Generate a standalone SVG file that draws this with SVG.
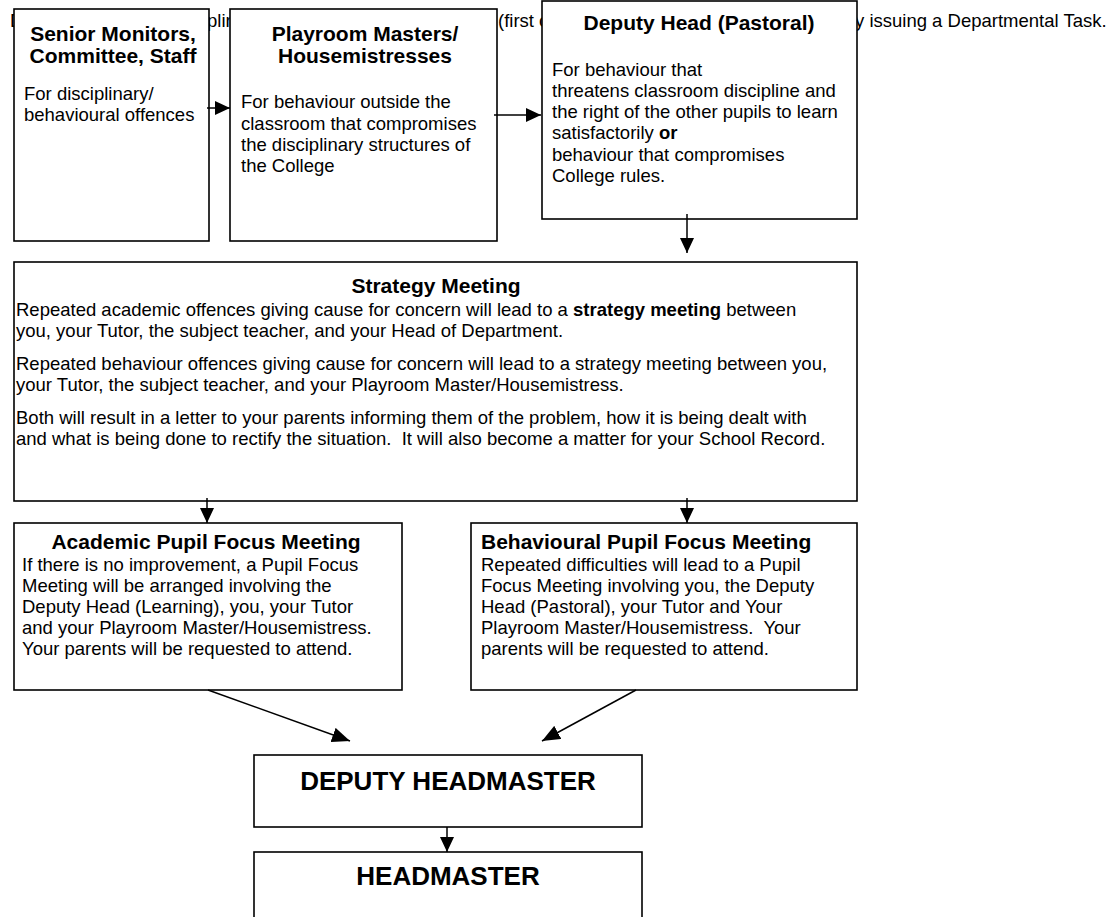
<svg xmlns="http://www.w3.org/2000/svg" width="1115" height="917" viewBox="0 0 1115 917">
<style>
text{font-family:"Liberation Sans",Arial,sans-serif;fill:#000}
.b{font-size:18.5px}
.t{font-size:21px;font-weight:bold}
.big{font-size:26px;font-weight:bold}
.box{fill:#fff;stroke:#000;stroke-width:1.6}
.c{stroke:#000;stroke-width:1.5;fill:none}
.m{text-anchor:middle}
</style>
<defs>
<marker id="ah" viewBox="0 0 15 14" refX="15" refY="7" markerWidth="15" markerHeight="14" markerUnits="userSpaceOnUse" orient="auto">
<path d="M0,0 L15,7 L0,14 Z" fill="#000"/>
</marker>
<marker id="ahl" viewBox="0 0 18 15" refX="18" refY="7.5" markerWidth="18" markerHeight="15" markerUnits="userSpaceOnUse" orient="auto">
<path d="M0,0 L18,7.5 L0,15 Z" fill="#000"/>
</marker>
</defs>
<g id="background-text">
<text class="b" x="10" y="27">D</text>
<text class="b" x="207" y="27">plin</text>
<text class="b" x="498" y="27">(first c</text>
<text class="b" x="855" y="27">y issuing a Departmental Task.</text>
</g>
<g id="senior-monitors">
<rect class="box" x="14" y="9" width="195" height="232"/>
<text class="t m" x="113" y="41">Senior Monitors,</text>
<text class="t m" x="113" y="63">Committee, Staff</text>
<text class="b" x="24" y="100">For disciplinary/</text>
<text class="b" x="24" y="121">behavioural offences</text>
</g>
<g id="playroom-masters">
<rect class="box" x="230" y="9" width="267" height="232"/>
<text class="t m" x="365" y="41">Playroom Masters/</text>
<text class="t m" x="365" y="63">Housemistresses</text>
<text class="b" x="241" y="108">For behaviour outside the</text>
<text class="b" x="241" y="130">classroom that compromises</text>
<text class="b" x="241" y="151">the disciplinary structures of</text>
<text class="b" x="241" y="172">the College</text>
</g>
<g id="deputy-head-pastoral">
<rect class="box" x="542" y="1" width="315" height="218"/>
<text class="t m" x="699" y="30">Deputy Head (Pastoral)</text>
<text class="b" x="552" y="76">For behaviour that</text>
<text class="b" x="552" y="97">threatens classroom discipline and</text>
<text class="b" x="552" y="118">the right of the other pupils to learn</text>
<text class="b" x="552" y="139">satisfactorily <tspan font-weight="bold">or</tspan></text>
<text class="b" x="552" y="161">behaviour that compromises</text>
<text class="b" x="552" y="182">College rules.</text>
</g>
<g id="strategy-meeting">
<rect class="box" x="14" y="262" width="843" height="239"/>
<text class="t m" x="436" y="293">Strategy Meeting</text>
<text class="b" x="16" y="316">Repeated academic offences giving cause for concern will lead to a <tspan font-weight="bold">strategy meeting</tspan> between</text>
<text class="b" x="16" y="337">you, your Tutor, the subject teacher, and your Head of Department.</text>
<text class="b" x="16" y="370">Repeated behaviour offences giving cause for concern will lead to a strategy meeting between you,</text>
<text class="b" x="16" y="391">your Tutor, the subject teacher, and your Playroom Master/Housemistress.</text>
<text class="b" x="16" y="424">Both will result in a letter to your parents informing them of the problem, how it is being dealt with</text>
<text class="b" x="16" y="445" xml:space="preserve">and what is being done to rectify the situation.  It will also become a matter for your School Record.</text>
</g>
<g id="academic-pfm">
<rect class="box" x="14" y="523" width="388" height="167"/>
<text class="t m" x="206" y="549">Academic Pupil Focus Meeting</text>
<text class="b" x="22" y="571">If there is no improvement, a Pupil Focus</text>
<text class="b" x="22" y="592">Meeting will be arranged involving the</text>
<text class="b" x="22" y="613">Deputy Head (Learning), you, your Tutor</text>
<text class="b" x="22" y="634">and your Playroom Master/Housemistress.</text>
<text class="b" x="22" y="655">Your parents will be requested to attend.</text>
</g>
<g id="behavioural-pfm">
<rect class="box" x="471" y="523" width="386" height="167"/>
<text class="t" x="481" y="549">Behavioural Pupil Focus Meeting</text>
<text class="b" x="481" y="571">Repeated difficulties will lead to a Pupil</text>
<text class="b" x="481" y="592">Focus Meeting involving you, the Deputy</text>
<text class="b" x="481" y="613">Head (Pastoral), your Tutor and Your</text>
<text class="b" x="481" y="634" xml:space="preserve">Playroom Master/Housemistress.  Your</text>
<text class="b" x="481" y="655">parents will be requested to attend.</text>
</g>
<g id="deputy-headmaster">
<rect class="box" x="254" y="755" width="388" height="72"/>
<text class="big m" x="448" y="790">DEPUTY HEADMASTER</text>
</g>
<g id="headmaster">
<rect class="box" x="254" y="852" width="388" height="80"/>
<text class="big m" x="448" y="885">HEADMASTER</text>
</g>
<g id="connectors">
<line class="c" x1="207" y1="108" x2="230" y2="108" marker-end="url(#ah)"/>
<line class="c" x1="494" y1="115" x2="541" y2="115" marker-end="url(#ah)"/>
<line class="c" x1="687" y1="214" x2="687" y2="253" marker-end="url(#ah)"/>
<line class="c" x1="207" y1="498" x2="207" y2="523" marker-end="url(#ah)"/>
<line class="c" x1="687" y1="498" x2="687" y2="523" marker-end="url(#ah)"/>
<line class="c" x1="208" y1="690" x2="350" y2="741" marker-end="url(#ahl)"/>
<line class="c" x1="636" y1="690" x2="542" y2="741" marker-end="url(#ahl)"/>
<line class="c" x1="447" y1="827" x2="447" y2="852" marker-end="url(#ah)"/>
</g>
</svg>
